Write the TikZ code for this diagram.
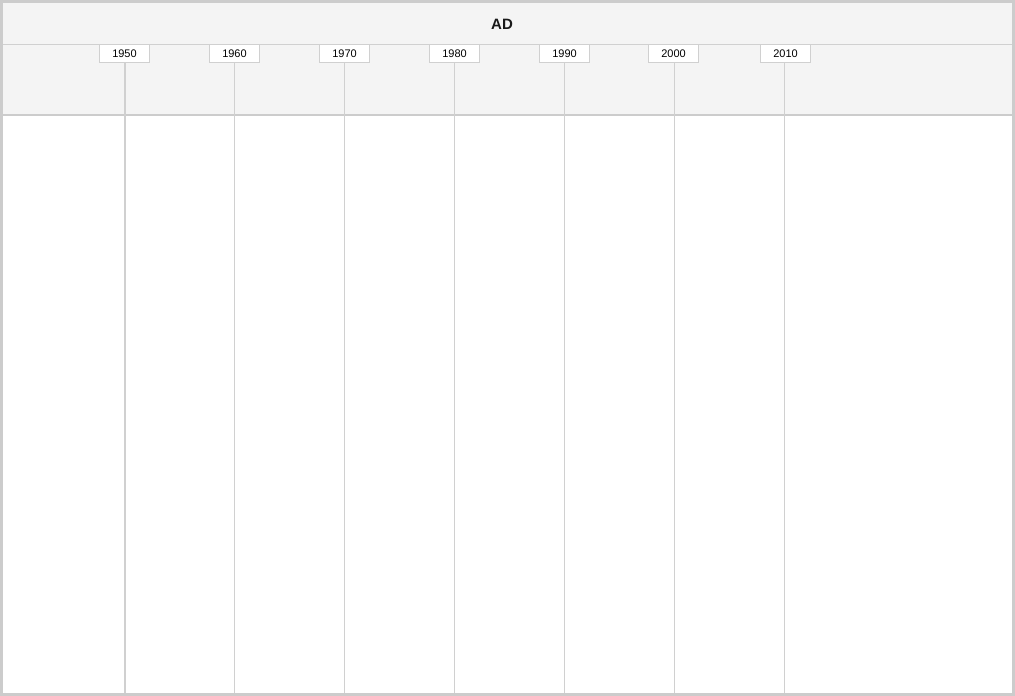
\documentclass[tikz,border=0pt]{standalone}
\usepackage{fontspec}
\setmainfont{Liberation Sans}
\definecolor{frame}{HTML}{CCCCCC}
\definecolor{band}{HTML}{F4F4F4}
\definecolor{gridc}{HTML}{D0D0D0}
\begin{document}
\begin{tikzpicture}[x=1pt,y=-1pt,
  yearbox/.style={draw=gridc,fill=white,line width=1pt,minimum width=50pt,minimum height=18pt,inner sep=0pt,font=\fontsize{11}{12}\selectfont,text=black},
  gridline/.style={draw=gridc,line width=1pt},
  title/.style={font=\bfseries\fontsize{15}{17}\selectfont,text=black!90}]
\useasboundingbox (0,0) rectangle (1015,696);
% outer frame and bands
\fill[frame] (0,0) rectangle (1015,696);
\fill[white] (3,3) rectangle (1012,693);
\fill[band] (3,3) rectangle (1012,114);
\draw[gridc,line width=1pt] (3,44.5) -- (1012,44.5);
\draw[frame,line width=2pt] (3,115) -- (1012,115);
\node[title] (ad) at (502,24.5) {AD};
% year labels and grid lines
\foreach \yr/\x/\bx/\w in {1950/124.5/124.5/2,1960/234.5/234.5/1,1970/344.5/344.5/1,1980/454.5/454.5/1,1990/564.5/564.5/1,2000/674.5/673.5/1,2010/784.5/785.5/1}{
  \coordinate (b\yr) at (\x,693);
  \coordinate (t\yr) at (\x,62);
  \node[yearbox] (y\yr) at (\bx,53.5) {\yr};
  \draw[gridline,line width=\w pt] (t\yr) -- (b\yr);
}
\end{tikzpicture}
\end{document}
